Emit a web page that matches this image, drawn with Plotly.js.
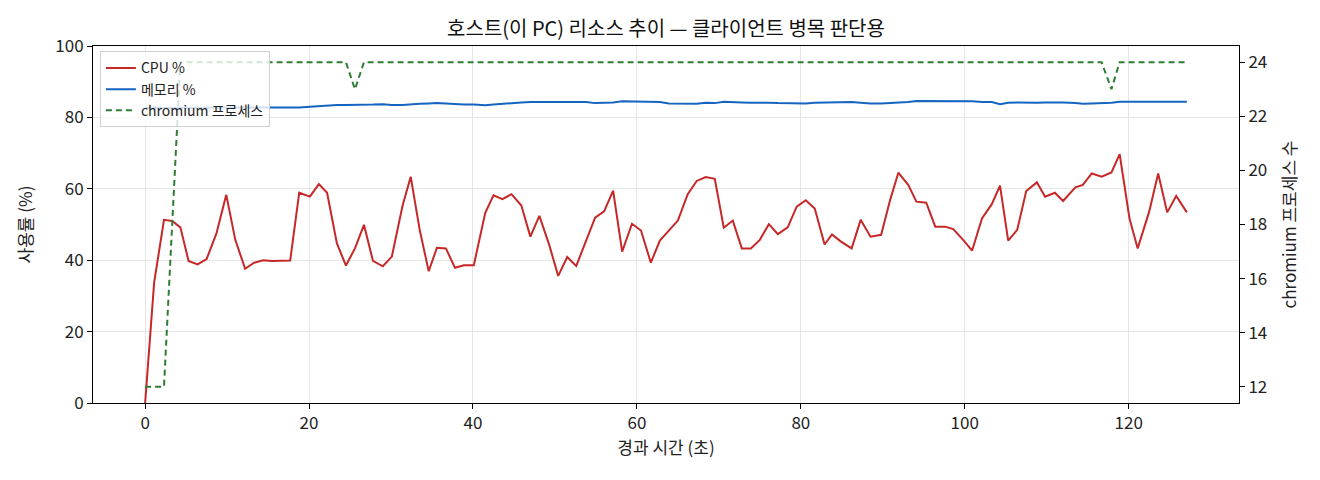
<!DOCTYPE html>
<html>
<head>
<meta charset="utf-8">
<script src="https://cdn.plot.ly/plotly-3.0.1.min.js"></script>
<style>
  body { margin: 0; background: #fff; }
  #chartcontainer { width: 1320px; height: 480px; }
</style>
</head>
<body>
<div id="chartcontainer"></div>
<script>
// elapsed seconds since start (samples are ~1.1 s apart)
var timeArr = [
  0, 1.1, 2.3, 3.3, 4.3, 5.3, 6.4, 7.5, 8.7, 9.9,
  11.0, 12.2, 13.3, 14.4, 15.5, 16.6, 17.7, 18.8, 20.1, 21.2,
  22.2, 23.4, 24.5, 25.6, 26.7, 27.8, 29.0, 30.1, 31.4, 32.4,
  33.5, 34.6, 35.6, 36.7, 37.8, 38.9, 40.1, 41.5, 42.5, 43.6,
  44.7, 45.9, 47.0, 48.1, 49.3, 50.4, 51.5, 52.6, 53.8, 54.9,
  56.0, 57.1, 58.2, 59.4, 60.5, 61.7, 62.8, 63.9, 65.0, 66.2,
  67.3, 68.4, 69.5, 70.6, 71.7, 72.8, 73.9, 75.0, 76.1, 77.2,
  78.4, 79.5, 80.6, 81.7, 82.9, 83.8, 84.9, 86.2, 87.3, 88.5,
  89.8, 90.9, 91.9, 93.1, 94.1, 95.3, 96.4, 97.6, 98.6, 99.8,
  100.9, 102.1, 103.3, 104.3, 105.3, 106.4, 107.5, 108.8, 109.8, 111.0,
  112.0, 113.5, 114.4, 115.5, 116.7, 117.9, 118.9, 120.1, 121.1, 122.5,
  123.6, 124.7, 125.8, 127.1
];

var cpuArr = [
  0, 33.7, 51.3, 51.0, 49.2, 39.8, 38.8, 40.3, 47.5, 58.3,
  45.7, 37.6, 39.3, 40.0, 39.8, 39.9, 39.9, 58.9, 57.8, 61.3,
  58.9, 44.7, 38.5, 43.3, 49.9, 39.8, 38.3, 41.0, 55.2, 63.4,
  48.5, 36.9, 43.5, 43.3, 37.9, 38.6, 38.6, 53.3, 58.2, 57.1,
  58.5, 55.3, 46.6, 52.4, 44.3, 35.6, 40.9, 38.4, 45.2, 51.9,
  53.7, 59.5, 42.4, 50.2, 48.3, 39.3, 45.5, 48.3, 51.1, 58.5,
  62.2, 63.3, 62.8, 49.1, 51.1, 43.3, 43.3, 45.7, 50.1, 47.3,
  49.2, 55.0, 56.8, 54.5, 44.4, 47.2, 45.2, 43.3, 51.3, 46.6,
  47.1, 56.9, 64.5, 61.1, 56.4, 56.1, 49.4, 49.4, 48.7, 45.7,
  42.7, 51.7, 55.7, 60.9, 45.5, 48.5, 59.4, 61.8, 57.8, 58.9,
  56.6, 60.4, 61.1, 64.3, 63.4, 64.6, 69.7, 51.7, 43.3, 53.6,
  64.3, 53.4, 58.0, 53.4
];

var memArr = [
  82.6, 82.6, 82.6, 82.7, 82.7, 82.7, 82.7, 82.7, 82.8, 82.8,
  82.7, 82.7, 82.6, 82.6, 82.6, 82.7, 82.8, 82.8, 83.0, 83.2,
  83.4, 83.5, 83.5, 83.6, 83.7, 83.6, 83.7, 83.5, 83.5, 83.7,
  83.8, 83.9, 84.0, 83.9, 83.7, 83.6, 83.6, 83.4, 83.6, 83.8,
  84.1, 84.2, 84.3, 84.3, 84.3, 84.3, 84.5, 84.3, 84.3, 84.0,
  84.0, 84.2, 84.5, 84.5, 84.5, 84.4, 84.3, 83.9, 83.8, 83.8,
  83.8, 84.1, 84.0, 84.4, 84.2, 84.2, 84.1, 84.2, 84.1, 84.0,
  83.9, 83.9, 83.9, 84.1, 84.2, 84.2, 84.2, 84.3, 84.1, 83.9,
  83.9, 84.0, 84.0, 84.3, 84.6, 84.6, 84.6, 84.5, 84.5, 84.6,
  84.5, 84.3, 84.3, 83.7, 84.1, 84.2, 84.1, 84.1, 84.2, 84.3,
  84.2, 84.0, 83.8, 83.9, 84.0, 84.1, 84.4, 84.4, 84.4, 84.5,
  84.4, 84.5, 84.4, 84.4
];

var chromiumArr = [
  12, 12, 12, 18, 24, 24, 24, 24, 24, 24,
  24, 24, 24, 24, 24, 24, 24, 24, 24, 24,
  24, 24, 24, 23, 24, 24, 24, 24, 24, 24,
  24, 24, 24, 24, 24, 24, 24, 24, 24, 24,
  24, 24, 24, 24, 24, 24, 24, 24, 24, 24,
  24, 24, 24, 24, 24, 24, 24, 24, 24, 24,
  24, 24, 24, 24, 24, 24, 24, 24, 24, 24,
  24, 24, 24, 24, 24, 24, 24, 24, 24, 24,
  24, 24, 24, 24, 24, 24, 24, 24, 24, 24,
  24, 24, 24, 24, 24, 24, 24, 24, 24, 24,
  24, 24, 24, 24, 24, 23, 24, 24, 24, 24,
  24, 24, 24, 24
];

var leftTicks = [0, 20, 40, 60, 80, 100];
var rightTicks = [12, 14, 16, 18, 20, 22, 24];
var xTicks = [0, 20, 40, 60, 80, 100, 120];

var fontFam = '"Noto Sans CJK KR", "Noto Sans", sans-serif';

var cpuTrace = {
  x: timeArr,
  y: cpuArr,
  name: 'CPU %',
  mode: 'lines',
  type: 'scatter',
  line: { color: '#c62828', width: 2 }
};

var memTrace = {
  x: timeArr,
  y: memArr,
  name: '메모리 %',
  mode: 'lines',
  type: 'scatter',
  line: { color: '#1565c0', width: 2 }
};

var chromiumTrace = {
  x: timeArr,
  y: chromiumArr,
  name: 'chromium 프로세스',
  mode: 'lines',
  type: 'scatter',
  yaxis: 'y2',
  line: { color: '#2e7d32', width: 2, dash: '6px,4px' }
};

var layout = {
  width: 1320,
  height: 480,
  margin: { l: 93, r: 81, t: 46, b: 77 },
  paper_bgcolor: '#fff',
  plot_bgcolor: '#fff',
  font: { family: fontFam, size: 17, color: '#222' },
  title: {
    text: '호스트(이 PC) 리소스 추이 — 클라이언트 병목 판단용',
    font: { family: fontFam, size: 20, color: '#111' },
    x: 0.5, xref: 'paper', xanchor: 'center',
    y: 1 - 29 / 480, yref: 'container', yanchor: 'middle'
  },
  showlegend: true,
  legend: {
    x: 0.006, y: 0.985, xanchor: 'left', yanchor: 'top',
    bgcolor: 'rgba(255,255,255,0.8)',
    bordercolor: '#d0d0d0', borderwidth: 1,
    font: { family: fontFam, size: 14, color: '#222' },
    tracegroupgap: 0
  },
  xaxis: {
    range: [-6.36, 133.46],
    tickvals: xTicks,
    ticks: 'outside', ticklen: 5, tickcolor: '#000',
    showline: true, linecolor: '#000', linewidth: 1, mirror: true,
    showgrid: true, gridcolor: '#e6e6e6', zeroline: false,
    tickfont: { size: 17 },
    title: { text: '경과 시간 (초)', font: { size: 17 }, standoff: 8 }
  },
  yaxis: {
    range: [0, 100],
    tickvals: leftTicks,
    ticks: 'outside', ticklen: 5, tickcolor: '#000',
    showline: true, linecolor: '#000', linewidth: 1,
    showgrid: true, gridcolor: '#e6e6e6', zeroline: false,
    tickfont: { size: 17 },
    title: { text: '사용률 (%)', font: { size: 17 }, standoff: 18 }
  },
  yaxis2: {
    range: [11.4, 24.6],
    tickvals: rightTicks,
    overlaying: 'y',
    side: 'right',
    ticks: 'outside', ticklen: 5, tickcolor: '#000',
    showline: true, linecolor: '#000', linewidth: 1,
    showgrid: false, zeroline: false,
    tickfont: { size: 17 },
    title: { text: 'chromium 프로세스 수', font: { size: 17 }, standoff: 17 }
  }
};

Plotly.newPlot('chartcontainer', [cpuTrace, memTrace, chromiumTrace], layout, { staticPlot: true });
</script>
</body>
</html>
